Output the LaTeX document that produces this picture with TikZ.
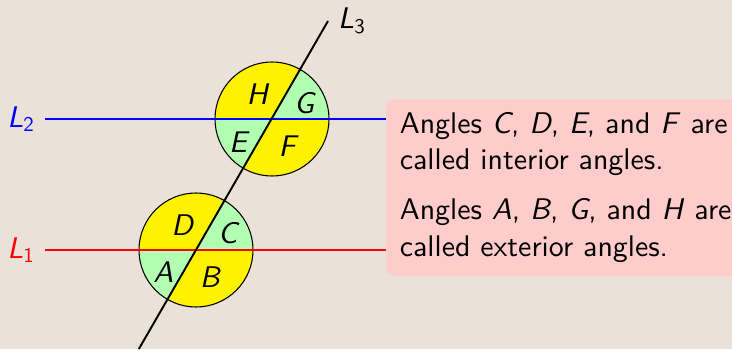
\documentclass[tikz,border=0pt]{standalone}
\usepackage{fontspec}
\setsansfont{lmsans10-regular.otf}[ItalicFont=lmsans10-oblique.otf, BoldFont=lmsans10-bold.otf]
\usepackage{tikz}
\usetikzlibrary{positioning}
\definecolor{bg_beige}{RGB}{234,225,216}
\definecolor{int_green}{RGB}{178,255,178}
\definecolor{note_pink}{RGB}{255,204,204}

\begin{document}
\begin{tikzpicture}[font=\sffamily\fontsize{17}{20.5}\selectfont,
    line/.style={line width=1.1pt},
    disc/.style={draw=black, line width=0.6pt},
    angle_lbl/.style={inner sep=0pt, font=\sffamily\itshape\fontsize{17}{20.5}\selectfont},
    notebox/.style={fill=note_pink, rounded corners=0.16cm, inner sep=0.27cm,
      text width=9.5cm, align=left}]

    % Background
    \fill[bg_beige] (0,0) rectangle (14.64,6.98);
    \useasboundingbox (0,0) rectangle (14.64,6.98);

    % Intersection points
    \coordinate (p1) at (3.92,1.98);
    \coordinate (p2) at (5.44,4.60);

    % Angle discs
    \foreach \c in {p1,p2} {
      \foreach \s/\e/\col in {0/60/int_green, 60/180/yellow, 180/240/int_green, 240/360/yellow} {
        \fill[\col] (\c) -- ++(\s:1.14) arc[start angle=\s, end angle=\e, radius=1.14] -- cycle;
      }
      \draw[disc] (\c) circle[radius=1.14];
    }

    % Angle names
    \foreach \c/\ang/\rad/\name in {p2/121/0.57/H, p2/27/0.72/G, p2/214/0.82/E, p2/299/0.62/F,
                                   p1/119/0.57/D, p1/28/0.72/C, p1/214/0.79/A, p1/297/0.61/B} {
      \path (\c) ++(\ang:\rad) node[angle_lbl] (ang\name) {\name};
    }

    % Note
    \node[notebox, anchor=north west] (note) at (7.72,5.0) {
      Angles \textit{C}, \textit{D}, \textit{E}, and \textit{F} are\\
      called interior angles.\\[0.28cm]
      Angles \textit{A}, \textit{B}, \textit{G}, and \textit{H} are\\
      called exterior angles.
    };

    % Parallel lines
    \coordinate (l1w) at (0.9,1.98);
    \coordinate (l2w) at (0.9,4.60);
    \node[left=0.08cm of l2w, text=blue] (lbl2) {\textit{L}\textsubscript{2}};
    \node[left=0.08cm of l1w, text=red] (lbl1) {\textit{L}\textsubscript{1}};
    \draw[line, blue] (l2w) -- (l2w -| note.west);
    \draw[line, red] (l1w) -- (l1w -| note.west);

    % Transversal
    \coordinate (l3s) at (2.777,0);
    \coordinate (l3n) at (6.56,6.56);
    \draw[line] (l3s) -- (l3n);
    \node[right=0.08cm of l3n] (lbl3) {\textit{L}\textsubscript{3}};

  \end{tikzpicture}
\end{document}
